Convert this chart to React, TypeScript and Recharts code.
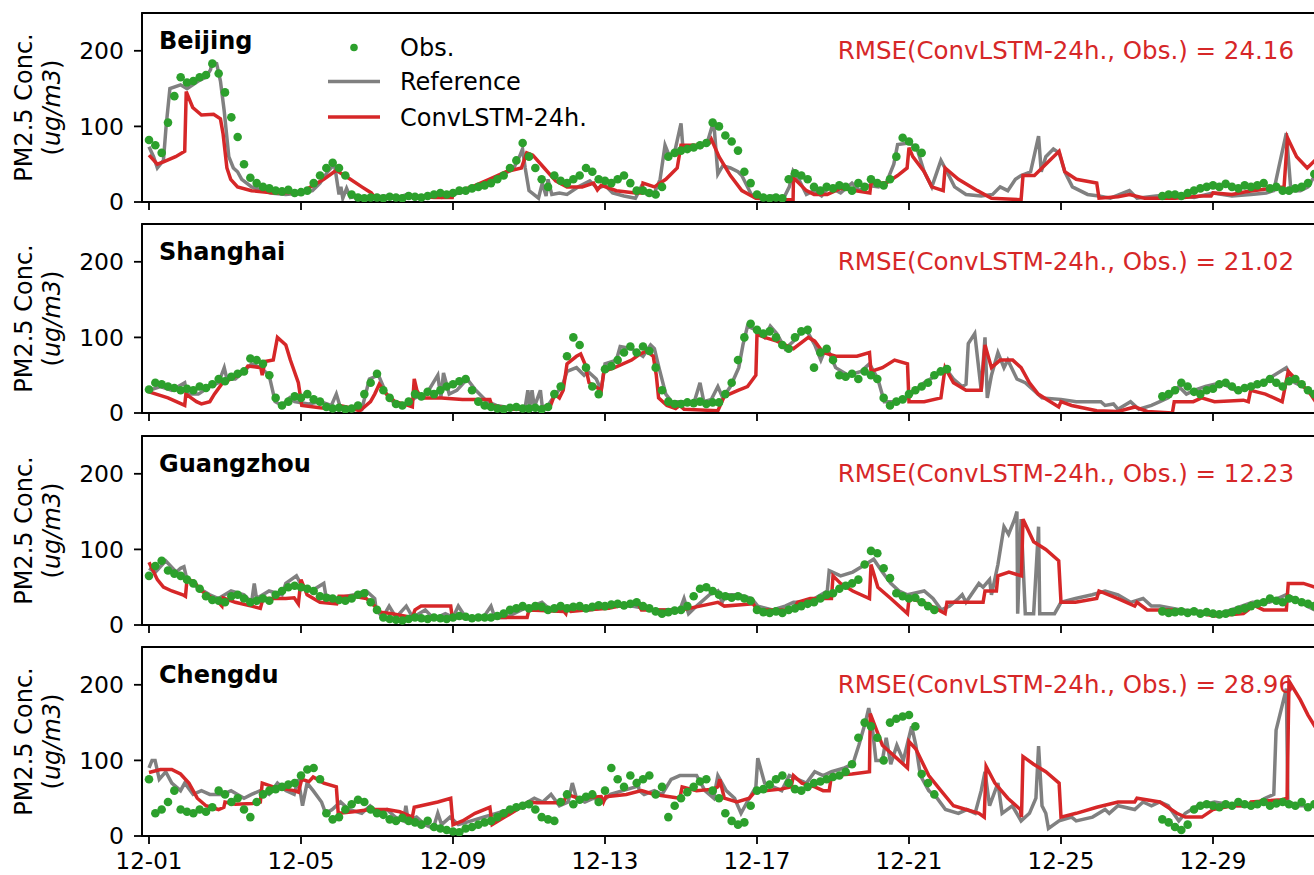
import React from 'react';
import { ComposedChart, Line, Scatter, XAxis, YAxis, ReferenceArea } from 'recharts';

// ---------- axes / labels ----------
const TICK_DAYS = [0, 4, 8, 12, 16, 20, 24, 28];
const TICK_LABELS = ['12-01', '12-05', '12-09', '12-13', '12-17', '12-21', '12-25', '12-29'];
const Y_TICKS = [0, 100, 200];
const CITIES = ['Beijing', 'Shanghai', 'Guangzhou', 'Chengdu'];
const RMSE_VALUES = ['24.16', '21.02', '12.23', '28.96'];
const LEGEND_LABELS = ['Obs.', 'Reference', 'ConvLSTM-24h.'];
const OBS_STEP_HOURS = 4;

// ---------- observations (every 4 h from 12-01 00:00, null = missing) ----------
const beijingObs: (number | null)[] = [
  82, 75, 65, 105, 140, 165,
  158, 160, 165, 168, 183, 170,
  145, 112, 86, 50, 32, 25,
  20, 18, 15, 14, 16, 12,
  13, 15, 25, 35, 45, 52,
  45, 35, 10, 6, 5, 6,
  6, 5, 7, 6, 5, 8,
  7, 6, 8, 10, 12, 10,
  12, 15, 15, 18, 20, 22,
  25, 30, 35, 45, 55, 78,
  60, 45, 30, 20, 35, 28,
  25, 30, 35, 45, 40, 30,
  28, 25, 30, 35, 25, 15,
  15, 12, 10, 20, 60, 65,
  68, 70, 72, 75, 78, 105,
  100, 88, 80, 68, 40, 25,
  10, 6, 5, 6, 5, 30,
  38, 35, 30, 20, 15, 20,
  18, 22, 20, 15, 25, 20,
  30, 25, 22, 30, 60, 85,
  80, 72, 65, null, null, null,
  null, null, null, null, null, null,
  null, null, null, null, null, null,
  null, null, null, null, null, null,
  null, null, null, null, null, null,
  null, null, null, null, null, null,
  null, null, null, null, 8, 10,
  10, 8, 12, 15, 18, 20,
  22, 20, 24, 20, 18, 22,
  20, 22, 25, 18, 20, 15,
  15, 18, 20, 25, 37, 40,
];

const shanghaiObs: (number | null)[] = [
  31, 40, 38, 35, 33, 30,
  32, 30, 35, 33, 38, 45,
  42, 48, 52, 55, 72, 70,
  65, 50, 20, 10, 15, 22,
  20, 25, 18, 15, 8, 6,
  7, 5, 6, 10, 25, 40,
  52, 30, 20, 12, 10, 15,
  25, 22, 28, 25, 30, 35,
  38, 42, 45, 30, 15, 10,
  8, 6, 5, 7, 8, 6,
  6, 7, 5, 8, 25, 35,
  75, 100, 90, 60, 35, 25,
  58, 62, 70, 80, 88, 80,
  88, 82, 60, 30, 15, 12,
  12, 14, 13, 15, 12, 14,
  14, 25, 40, 70, 100, 118,
  110, 105, 108, 100, 90, 85,
  100, 108, 110, 60, 80, 85,
  70, 50, 48, 52, 45, 55,
  50, 45, 20, 10, 15, 18,
  25, 30, 35, 40, 50, 55,
  58, null, null, null, null, null,
  null, null, null, null, null, null,
  null, null, null, null, null, null,
  null, null, null, null, null, null,
  null, null, null, null, null, null,
  null, null, null, null, 22, 25,
  30, 40, 35, 28, 25, 30,
  32, 38, 40, 35, 30, 33,
  35, 38, 40, 45, 40, 35,
  42, 45, 38, 30, 25, 20,
];

const guangzhouObs: (number | null)[] = [
  65, 78, 85, 72, 68, 65,
  60, 55, 48, 38, 33, 32,
  30, 38, 40, 35, 30, 32,
  35, 32, 40, 45, 50, 52,
  50, 48, 45, 38, 36, 35,
  33, 32, 35, 40, 42, 30,
  20, 10, 8, 7, 6, 8,
  10, 9, 8, 10, 9, 8,
  10, 12, 11, 9, 10, 10,
  10, 12, 15, 20, 22, 25,
  22, 25, 24, 20, 22, 25,
  22, 24, 25, 22, 24, 26,
  25, 27, 28, 26, 28, 30,
  25, 22, 18, 15, 17, 19,
  20, 25, 38, 48, 50, 45,
  40, 38, 36, 38, 35, 32,
  20, 17, 16, 18, 16, 20,
  22, 25, 28, 30, 35, 40,
  42, 48, 52, 55, 60, 80,
  98, 95, 75, 62, 42, 38,
  35, 36, 30, 25, 20, null,
  null, null, null, null, null, null,
  null, null, null, null, null, null,
  null, null, null, null, null, null,
  null, null, null, null, null, null,
  null, null, null, null, null, null,
  null, null, null, null, 18, 16,
  17, 18, 16, 18, 15, 17,
  15, 14, 15, 17, 20, 22,
  25, 28, 30, 35, 32, 30,
  35, 33, 30, 28, 25, 22,
];

const chengduObs: (number | null)[] = [
  75, 30, 35, 45, 60, 35,
  32, 30, 35, 32, 38, 60,
  55, 45, 50, 35, 25, 45,
  55, 60, 62, 65, 68, 70,
  80, 88, 90, 75, 30, 22,
  25, 35, 42, 48, 45, 35,
  30, 28, 22, 20, 24, 20,
  18, 15, 20, 12, 10, 8,
  6, 5, 10, 12, 15, 18,
  20, 25, 30, 35, 38, 40,
  42, 35, 25, 22, 20, 45,
  55, 42, 48, 52, 55, 45,
  60, 90, 75, 65, 80, 70,
  75, 80, 55, 65, 25, 40,
  50, 58, 65, 72, 75, 60,
  50, 30, 20, 15, 18, 40,
  60, 62, 68, 75, 80, 70,
  62, 60, 65, 70, 72, 75,
  78, 80, 85, 95, 130, 150,
  145, 130, 100, 150, 155, 158,
  160, 145, 82, 70, 55, null,
  null, null, null, null, null, null,
  null, null, null, null, null, null,
  null, null, null, null, null, null,
  null, null, null, null, null, null,
  null, null, null, null, null, null,
  null, null, null, null, 22, 18,
  12, 8, 15, 35, 40, 42,
  40, 38, 42, 40, 45, 42,
  40, 42, 45, 40, 43, 45,
  42, 40, 45, 38, 42, 40,
];

// ---------- reference run: [day since 12-01 00:00, value] ----------
const beijingRef: [number, number][] = [
  [0, 73], [0.12, 60], [0.22, 45], [0.38, 55], [0.45, 100], [0.55, 150], [0.83, 155], [1.0, 150], [1.3, 160], [1.5, 165],
  [1.62, 175], [1.66, 185], [1.78, 183], [1.88, 160], [1.98, 120], [2.1, 60], [2.22, 45], [2.33, 40], [2.44, 30], [2.7, 20],
  [3.2, 12], [3.6, 10], [4.0, 12], [4.3, 15], [4.5, 25], [4.7, 40], [4.88, 50], [5.0, 10], [5.05, 20], [5.1, 5],
  [5.2, 18], [5.3, 6], [5.5, 8], [5.8, 5], [6.2, 8], [6.5, 5], [6.8, 10], [7.1, 6], [7.4, 8], [7.7, 6],
  [7.8, 10], [8.2, 12], [8.5, 20], [8.8, 22], [9.0, 25], [9.3, 35], [9.6, 45], [9.75, 60], [9.83, 70], [9.9, 45],
  [10.0, 15], [10.25, 5], [10.35, 25], [10.45, 8], [10.5, 30], [10.6, 10], [10.8, 12], [11.0, 10], [11.3, 20], [11.6, 28],
  [11.8, 18], [12.0, 22], [12.2, 12], [12.5, 8], [12.8, 5], [12.95, 20], [13.1, 10], [13.3, 12], [13.45, 30], [13.58, 75],
  [13.7, 60], [13.85, 70], [14.0, 104], [14.05, 72], [14.3, 75], [14.5, 72], [14.7, 80], [14.86, 107], [14.97, 37], [15.1, 48],
  [15.3, 45], [15.5, 40], [15.6, 35], [15.85, 10], [16.1, 5], [16.4, 8], [16.7, 5], [16.85, 20], [16.95, 41], [17.1, 30],
  [17.3, 10], [17.5, 15], [17.7, 8], [17.9, 20], [18.2, 12], [18.5, 25], [18.7, 15], [18.9, 22], [19.2, 20], [19.4, 25],
  [19.6, 50], [19.7, 76], [20.0, 78], [20.2, 72], [20.4, 40], [20.6, 20], [20.84, 55], [21.0, 40], [21.2, 20], [21.5, 10],
  [21.9, 8], [22.2, 10], [22.4, 20], [22.6, 15], [22.8, 30], [22.95, 35], [23.2, 40], [23.41, 87], [23.48, 40], [23.6, 60],
  [23.8, 70], [23.95, 65], [24.1, 40], [24.3, 20], [24.7, 10], [25.0, 8], [25.3, 5], [25.8, 15], [26.0, 5], [26.5, 8],
  [27.0, 10], [27.5, 6], [28.0, 12], [28.5, 8], [29.0, 10], [29.4, 12], [29.6, 15], [29.75, 50], [29.93, 91], [30.05, 15],
  [30.3, 15], [30.5, 20], [30.68, 35], [31.0, 40],
];

const shanghaiRef: [number, number][] = [
  [0, 30], [0.3, 35], [0.6, 30], [0.94, 40], [1.0, 25], [1.3, 25], [1.6, 35], [1.83, 40], [1.98, 60], [2.05, 45],
  [2.27, 45], [2.5, 55], [2.7, 65], [2.94, 60], [3.16, 50], [3.32, 15], [3.5, 10], [3.7, 20], [3.83, 15], [4.2, 12],
  [4.5, 15], [4.8, 10], [4.93, 25], [5.05, 5], [5.4, 8], [5.6, 5], [5.8, 45], [6.04, 50], [6.25, 25], [6.5, 10],
  [6.8, 12], [7.0, 20], [7.3, 25], [7.6, 50], [7.68, 20], [7.75, 53], [7.9, 25], [8.1, 30], [8.37, 45], [8.6, 30],
  [8.9, 15], [9.14, 10], [9.5, 7], [9.9, 8], [9.97, 30], [10.02, 8], [10.08, 30], [10.14, 8], [10.3, 30], [10.35, 8],
  [10.5, 10], [10.7, 25], [10.87, 35], [11.0, 55], [11.25, 60], [11.45, 50], [11.55, 55], [11.77, 45], [11.9, 30], [12.0, 65],
  [12.3, 70], [12.4, 88], [12.7, 85], [13.0, 75], [13.2, 90], [13.3, 85], [13.42, 60], [13.6, 25], [13.75, 15], [14.1, 15],
  [14.35, 15], [14.5, 40], [14.6, 15], [14.8, 18], [14.97, 35], [15.1, 20], [15.3, 35], [15.52, 60], [15.63, 90], [15.75, 115],
  [15.97, 110], [16.2, 100], [16.35, 115], [16.52, 105], [16.74, 85], [16.96, 95], [17.13, 105], [17.3, 110], [17.52, 90], [17.68, 70],
  [17.8, 85], [17.9, 80], [18.07, 60], [18.4, 50], [18.74, 55], [18.96, 65], [19.18, 45], [19.35, 15], [19.62, 15], [19.95, 20],
  [20.17, 30], [20.4, 40], [20.73, 50], [20.95, 60], [21.17, 45], [21.4, 35], [21.5, 38], [21.56, 92], [21.73, 105], [21.9, 30],
  [22.0, 100], [22.06, 20], [22.17, 50], [22.34, 80], [22.5, 60], [22.6, 70], [22.84, 45], [23.06, 40], [23.28, 30], [23.5, 20],
  [24.0, 18], [24.4, 15], [24.7, 15], [25.05, 15], [25.16, 10], [25.38, 12], [25.5, 5], [25.83, 15], [26.05, 5], [26.38, 10],
  [26.6, 15], [26.82, 20], [27.1, 35], [27.3, 25], [27.5, 30], [27.8, 35], [28.2, 40], [28.6, 30], [29.1, 35], [29.45, 45],
  [29.93, 60], [30.15, 40], [30.37, 35], [30.68, 20], [31.0, 20],
];

const guangzhouRef: [number, number][] = [
  [0, 75], [0.17, 70], [0.44, 85], [0.72, 70], [0.83, 75], [0.92, 77], [1.0, 60], [1.27, 50], [1.6, 40], [1.83, 35],
  [2.16, 45], [2.5, 40], [2.7, 30], [2.77, 55], [2.83, 35], [3.16, 45], [3.5, 40], [3.6, 55], [3.88, 65], [4.04, 50],
  [4.27, 45], [4.6, 55], [4.65, 40], [4.9, 35], [5.4, 40], [5.72, 45], [5.94, 35], [5.98, 20], [6.15, 10], [6.32, 25],
  [6.5, 10], [6.77, 25], [6.94, 10], [7.27, 20], [7.5, 8], [7.8, 15], [8.0, 10], [8.14, 25], [8.36, 8], [8.8, 10],
  [9.0, 25], [9.1, 10], [9.4, 10], [9.8, 20], [10.1, 25], [10.34, 30], [10.56, 20], [11.1, 25], [11.6, 20], [12.2, 25],
  [12.7, 25], [13.3, 20], [13.97, 20], [14.08, 35], [14.2, 15], [14.41, 25], [14.75, 40], [14.97, 45], [15.08, 30], [15.19, 40],
  [15.52, 40], [15.86, 35], [16.02, 25], [16.41, 20], [16.74, 25], [16.96, 30], [17.3, 30], [17.52, 35], [17.85, 45], [17.9, 72],
  [18.2, 65], [18.52, 70], [18.85, 80], [19.07, 87], [19.3, 70], [19.52, 55], [19.74, 45], [19.96, 40], [20.4, 45], [20.63, 35],
  [20.85, 20], [21.07, 25], [21.3, 35], [21.4, 40], [21.5, 30], [21.84, 55], [21.95, 50], [22.12, 60], [22.17, 40], [22.34, 80],
  [22.5, 130], [22.62, 120], [22.78, 140], [22.84, 150], [22.86, 15], [22.95, 140], [23.06, 15], [23.28, 15], [23.41, 130], [23.44, 15],
  [23.83, 15], [24.0, 30], [24.38, 35], [24.82, 40], [25.16, 45], [25.5, 40], [25.83, 30], [26.16, 35], [26.38, 25], [26.6, 25],
  [27.16, 20], [27.71, 18], [28.15, 15], [28.48, 20], [29.04, 30], [29.48, 30], [29.93, 40], [30.15, 35], [30.48, 25], [30.68, 20],
  [31.0, 20],
];

const chengduRef: [number, number][] = [
  [0, 90], [0.08, 100], [0.16, 100], [0.27, 75], [0.44, 85], [0.6, 70], [0.83, 60], [0.94, 70], [1.16, 55], [1.38, 60],
  [1.6, 55], [1.94, 55], [2.16, 60], [2.5, 50], [2.7, 55], [2.93, 60], [3.16, 55], [3.38, 70], [3.6, 60], [3.82, 55],
  [3.93, 75], [4.04, 40], [4.16, 70], [4.32, 60], [4.54, 45], [4.65, 30], [4.82, 35], [5.04, 45], [5.26, 35], [5.6, 30],
  [5.82, 40], [6.04, 30], [6.26, 35], [6.48, 25], [6.7, 20], [6.76, 40], [6.82, 20], [7.04, 25], [7.26, 15], [7.48, 10],
  [7.6, 30], [7.7, 15], [7.92, 25], [8.14, 15], [8.48, 20], [8.8, 25], [9.14, 30], [9.48, 35], [9.8, 40], [10.14, 50],
  [10.36, 45], [10.58, 55], [10.8, 40], [11.03, 45], [11.14, 70], [11.25, 50], [11.47, 45], [11.7, 50], [11.92, 45], [12.14, 55],
  [12.47, 60], [12.8, 65], [12.85, 75], [12.9, 60], [13.03, 55], [13.3, 60], [13.5, 55], [13.74, 75], [13.97, 80], [14.41, 80],
  [14.63, 60], [14.86, 50], [14.97, 80], [15.19, 60], [15.41, 50], [15.58, 30], [15.74, 45], [15.97, 65], [16.02, 103], [16.2, 70],
  [16.65, 60], [16.85, 80], [17.07, 75], [17.3, 70], [17.52, 85], [17.74, 80], [17.96, 85], [18.3, 90], [18.52, 95], [18.68, 120],
  [18.85, 150], [18.94, 169], [19.02, 150], [19.13, 100], [19.3, 100], [19.4, 130], [19.52, 95], [19.68, 120], [19.85, 100], [20.07, 145],
  [20.18, 120], [20.3, 80], [20.52, 60], [20.74, 50], [20.96, 35], [21.3, 30], [21.52, 35], [21.74, 30], [21.9, 60], [22.0, 85],
  [22.12, 40], [22.34, 70], [22.45, 30], [22.72, 40], [22.95, 20], [23.17, 30], [23.34, 50], [23.41, 119], [23.5, 40], [23.6, 30],
  [23.67, 10], [23.95, 20], [24.28, 25], [24.4, 20], [24.83, 25], [25.16, 35], [25.27, 30], [25.5, 40], [25.94, 35], [26.16, 45],
  [26.38, 40], [26.6, 45], [26.82, 40], [27.1, 20], [27.27, 30], [27.6, 40], [28.04, 45], [28.6, 40], [29.04, 40], [29.37, 50],
  [29.6, 55], [29.66, 140], [29.93, 195], [29.97, 45], [30.27, 40], [30.68, 40], [31.0, 40],
];

// ---------- ConvLSTM-24h forecast: [day, value] ----------
const beijingModel: [number, number][] = [
  [0, 62], [0.22, 50], [0.38, 53], [0.7, 60], [0.94, 67], [0.98, 146], [1.15, 125], [1.38, 115], [1.7, 116], [1.88, 110],
  [1.95, 90], [2.05, 45], [2.15, 30], [2.33, 20], [2.7, 15], [3.3, 12], [3.9, 13], [4.04, 13], [4.25, 20], [4.6, 30],
  [4.93, 42], [5.05, 38], [5.3, 30], [5.6, 20], [5.85, 12], [5.96, 5], [6.5, 6], [7.0, 8], [7.5, 6], [7.98, 6],
  [8.0, 12], [8.5, 20], [8.95, 30], [9.4, 40], [9.8, 45], [9.94, 65], [10.1, 62], [10.4, 45], [10.7, 28], [11.0, 20],
  [11.4, 20], [11.7, 25], [11.8, 16], [11.9, 22], [12.3, 15], [12.8, 12], [12.96, 12], [13.0, 25], [13.3, 20], [13.6, 30],
  [13.9, 45], [14.0, 75], [14.4, 75], [14.75, 78], [14.8, 83], [15.0, 60], [15.3, 35], [15.6, 15], [15.97, 5], [16.5, 3],
  [16.95, 3], [16.96, 32], [17.3, 15], [17.5, 10], [17.85, 10], [18.2, 18], [18.6, 15], [18.97, 12], [19.0, 25], [19.4, 25],
  [19.7, 35], [19.95, 45], [20.0, 72], [20.1, 60], [20.4, 40], [20.6, 20], [20.9, 15], [20.95, 45], [21.3, 30], [21.8, 15],
  [22.17, 5], [22.95, 3], [23.0, 35], [23.3, 35], [23.6, 50], [23.95, 67], [24.1, 40], [24.4, 30], [24.94, 25], [25.0, 5],
  [25.5, 7], [25.8, 10], [26.2, 5], [27.0, 5], [27.7, 8], [27.95, 8], [28.0, 12], [28.5, 10], [28.9, 14], [29.5, 18],
  [29.87, 20], [29.96, 85], [30.2, 60], [30.48, 45], [30.68, 55], [31.0, 60],
];

const shanghaiModel: [number, number][] = [
  [0, 28], [0.5, 20], [0.72, 15], [0.94, 10], [0.97, 25], [1.25, 15], [1.38, 12], [1.6, 15], [1.72, 25], [1.94, 40],
  [2.16, 45], [2.5, 55], [2.6, 62], [2.94, 60], [2.98, 50], [3.05, 68], [3.27, 70], [3.38, 100], [3.6, 90], [3.72, 70],
  [3.93, 40], [4.02, 10], [4.5, 7], [4.94, 5], [5.0, 10], [5.2, 8], [5.55, 3], [5.83, 15], [5.94, 25], [6.06, 38],
  [6.25, 25], [6.47, 15], [6.7, 12], [6.93, 8], [6.98, 45], [7.05, 30], [7.16, 20], [7.7, 20], [8.25, 18], [8.97, 18],
  [9.02, 10], [9.58, 5], [9.9, 5], [10.46, 8], [10.57, 10], [10.68, 25], [10.8, 20], [10.9, 30], [11.0, 65], [11.25, 75],
  [11.36, 78], [11.47, 65], [11.58, 40], [11.9, 30], [11.97, 55], [12.25, 60], [12.7, 70], [12.92, 78], [13.1, 82], [13.27, 75],
  [13.35, 50], [13.41, 20], [13.63, 10], [13.86, 6], [13.97, 10], [14.08, 5], [14.97, 3], [15.14, 22], [15.5, 30], [15.75, 35],
  [15.97, 50], [16.0, 104], [16.2, 100], [16.52, 95], [16.96, 85], [17.35, 100], [17.52, 95], [17.74, 80], [18.07, 75], [18.63, 75],
  [18.96, 80], [19.0, 55], [19.3, 60], [19.62, 70], [19.96, 65], [20.0, 15], [20.4, 15], [20.84, 20], [20.95, 60], [21.17, 40],
  [21.5, 30], [21.9, 30], [22.0, 90], [22.17, 60], [22.4, 70], [22.73, 70], [22.95, 60], [23.17, 40], [23.4, 25], [23.72, 15],
  [23.94, 8], [24.0, 15], [24.28, 10], [24.94, 3], [25.5, 2], [25.94, 8], [26.27, 2], [26.93, 0], [26.98, 15], [27.48, 15],
  [27.7, 20], [28.04, 15], [28.8, 17], [28.93, 15], [28.99, 30], [29.38, 25], [29.82, 15], [29.98, 55], [30.27, 40], [30.5, 30],
  [30.7, 15], [31.0, 12],
];

const guangzhouModel: [number, number][] = [
  [0, 83], [0.22, 60], [0.38, 50], [0.6, 45], [0.89, 40], [0.96, 38], [1.0, 60], [1.17, 58], [1.38, 45], [1.83, 30],
  [1.92, 25], [1.95, 36], [2.27, 30], [2.7, 25], [2.93, 22], [3.0, 35], [3.6, 35], [3.82, 36], [3.93, 28], [4.0, 60],
  [4.16, 40], [4.5, 30], [4.94, 28], [5.0, 38], [5.38, 38], [5.72, 35], [5.94, 25], [6.1, 17], [6.4, 15], [6.93, 10],
  [7.0, 20], [7.16, 25], [7.94, 25], [7.98, 10], [9.5, 10], [9.95, 10], [10.0, 20], [10.92, 18], [10.97, 15], [11.0, 22],
  [11.1, 18], [11.56, 20], [12.1, 22], [12.85, 30], [12.96, 20], [13.5, 20], [14.0, 20], [14.5, 25], [14.97, 30], [15.14, 25],
  [15.9, 28], [16.0, 20], [16.96, 20], [17.07, 30], [17.4, 35], [17.96, 35], [18.0, 65], [18.2, 55], [18.52, 45], [18.96, 35],
  [19.0, 80], [19.18, 50], [19.52, 35], [19.96, 15], [20.0, 35], [20.4, 30], [20.95, 15], [21.0, 30], [21.95, 30], [22.0, 45],
  [22.3, 45], [22.34, 65], [22.63, 70], [22.96, 65], [23.0, 140], [23.28, 110], [23.6, 100], [23.94, 85], [24.0, 30], [24.38, 30],
  [24.94, 35], [25.0, 45], [25.5, 35], [25.94, 25], [26.0, 30], [26.27, 20], [26.93, 20], [27.5, 17], [28.04, 12], [28.8, 15],
  [28.93, 20], [29.0, 28], [29.33, 20], [29.93, 20], [29.98, 55], [30.38, 55], [30.68, 50], [31.0, 48],
];

const chengduModel: [number, number][] = [
  [0, 84], [0.3, 88], [0.6, 88], [0.83, 82], [1.05, 70], [1.27, 50], [1.5, 40], [1.83, 35], [1.97, 38], [2.0, 45],
  [2.27, 42], [2.72, 43], [2.93, 45], [2.98, 70], [3.27, 65], [3.82, 60], [3.93, 58], [4.02, 75], [4.21, 72], [4.32, 78],
  [4.6, 70], [4.93, 65], [4.98, 30], [5.38, 32], [5.82, 35], [6.27, 35], [6.6, 32], [6.93, 25], [6.98, 38], [7.6, 45],
  [7.94, 50], [8.0, 15], [8.25, 20], [8.58, 30], [8.97, 38], [9.03, 15], [9.36, 25], [9.69, 35], [10.0, 45], [10.2, 44],
  [10.9, 44], [11.0, 55], [11.3, 50], [11.9, 52], [11.96, 45], [12.02, 52], [12.56, 55], [12.96, 60], [13.3, 55], [13.97, 50],
  [14.03, 65], [14.41, 60], [14.86, 62], [14.97, 65], [15.02, 75], [15.14, 50], [15.47, 45], [15.8, 50], [15.97, 60], [16.2, 60],
  [16.63, 62], [16.9, 65], [16.96, 80], [17.18, 70], [17.52, 65], [17.74, 60], [17.9, 60], [17.96, 80], [18.5, 82], [18.96, 85],
  [18.98, 162], [19.3, 120], [19.63, 105], [19.96, 90], [20.0, 125], [20.18, 115], [20.52, 80], [20.84, 60], [21.17, 40], [21.5, 35],
  [21.84, 30], [21.98, 25], [22.03, 92], [22.26, 70], [22.6, 50], [22.93, 35], [22.96, 25], [23.0, 105], [23.28, 95], [23.6, 85],
  [23.95, 70], [24.0, 25], [24.4, 30], [24.94, 38], [25.5, 45], [25.94, 45], [26.0, 50], [26.6, 45], [27.05, 30], [27.27, 25],
  [27.71, 25], [28.0, 35], [28.5, 40], [28.93, 40], [29.0, 45], [29.82, 48], [29.95, 50], [30.0, 205], [30.3, 180], [30.5, 160],
  [30.68, 145], [31.0, 120],
];

// ---------- layout ----------
const FONT = 'DejaVu Sans';
const GREEN = '#2ca02c';
const GRAY = '#808080';
const RED = '#d62728';
const PLOT_LEFT = 142;
const DAY0_PX = 149;
const PX_PER_DAY = 38;
const CHART_W = 1334;
const X_MIN = (PLOT_LEFT - DAY0_PX) / PX_PER_DAY;
const X_MAX = (CHART_W - DAY0_PX) / PX_PER_DAY;
const PLOT_H = 189;
const PANEL_TOPS = [13, 224, 436, 647];
const TOP_PAD = 6;

const panels = [
  { obs: beijingObs, ref: beijingRef, model: beijingModel },
  { obs: shanghaiObs, ref: shanghaiRef, model: shanghaiModel },
  { obs: guangzhouObs, ref: guangzhouRef, model: guangzhouModel },
  { obs: chengduObs, ref: chengduRef, model: chengduModel },
];

const Dot = (p: any) => {
  if (p.cx == null || p.cy == null) return null;
  return <circle cx={p.cx} cy={p.cy} r={4.3} fill={GREEN} />;
};

function Panel({ idx }: { idx: number }) {
  const { obs, ref, model } = panels[idx];
  const last = idx === panels.length - 1;
  const obsPts = obs
    .map((v, i) => (v == null ? null : { t: (i * OBS_STEP_HOURS) / 24, v }))
    .filter((d): d is { t: number; v: number } => d !== null);
  const refPts = ref.map(([t, v]) => ({ t, v }));
  const modelPts = model.map(([t, v]) => ({ t, v }));
  const axisH = last ? 48 : 20;
  return (
    <div style={{ position: 'absolute', left: 0, top: PANEL_TOPS[idx] - TOP_PAD }}>
      <ComposedChart
        width={CHART_W}
        height={TOP_PAD + PLOT_H + axisH}
        margin={{ top: TOP_PAD, right: 0, bottom: 0, left: 0 }}
      >
        <XAxis
          dataKey="t"
          type="number"
          domain={[X_MIN, X_MAX]}
          allowDataOverflow
          ticks={TICK_DAYS}
          interval={0}
          height={axisH}
          tickSize={8}
          tickMargin={9}
          tickFormatter={(v: number) => (last ? TICK_LABELS[TICK_DAYS.indexOf(v)] : '')}
          axisLine={{ stroke: '#000', strokeWidth: 1.8 }}
          tickLine={{ stroke: '#000', strokeWidth: 1.8 }}
          tick={{ fill: '#000', fontSize: 23, fontFamily: FONT }}
        />
        <YAxis
          type="number"
          domain={[0, 250]}
          allowDataOverflow
          ticks={Y_TICKS}
          interval={0}
          width={PLOT_LEFT}
          tickSize={8}
          tickMargin={10}
          axisLine={{ stroke: '#000', strokeWidth: 1.8 }}
          tickLine={{ stroke: '#000', strokeWidth: 1.8 }}
          tick={{ fill: '#000', fontSize: 23.5, fontFamily: FONT }}
        />
        <Scatter data={obsPts} dataKey="v" fill={GREEN} shape={Dot} isAnimationActive={false} />
        <Line
          data={refPts}
          dataKey="v"
          type="linear"
          stroke={GRAY}
          strokeWidth={3.5}
          dot={false}
          activeDot={false}
          isAnimationActive={false}
        />
        <Line
          data={modelPts}
          dataKey="v"
          type="linear"
          stroke={RED}
          strokeWidth={3.5}
          dot={false}
          activeDot={false}
          isAnimationActive={false}
        />
        <ReferenceArea
          x1={X_MIN}
          x2={X_MAX}
          y1={0}
          y2={250}
          fill="none"
          fillOpacity={0}
          stroke="#000"
          strokeWidth={1.8}
          ifOverflow="visible"
        />
      </ComposedChart>
    </div>
  );
}

function Overlay() {
  return (
    <svg
      width={1314}
      height={875}
      style={{ position: 'absolute', left: 0, top: 0, pointerEvents: 'none' }}
      fontFamily={FONT}
    >
      {CITIES.map((city, i) => {
        const off = PANEL_TOPS[i] - PANEL_TOPS[0];
        const cy = PANEL_TOPS[i] + PLOT_H / 2;
        return (
          <g key={city}>
            <text
              transform={`translate(24, ${cy}) rotate(-90)`}
              textAnchor="middle"
              dominantBaseline="central"
              fontSize={24}
              fill="#000"
            >
              PM2.5 Conc.
            </text>
            <text
              transform={`translate(52, ${cy}) rotate(-90)`}
              textAnchor="middle"
              dominantBaseline="central"
              fontSize={24}
              fill="#000"
            >
              (<tspan fontStyle="italic">ug/m3</tspan>)
            </text>
            <text x={159} y={49 + off} fontSize={24} fontWeight="bold" fill="#000">
              {city}
            </text>
            <text x={1294} y={59 + off} fontSize={24.5} textAnchor="end" fill={RED}>
              {`RMSE(ConvLSTM-24h., Obs.) = ${RMSE_VALUES[i]}`}
            </text>
          </g>
        );
      })}
      <g>
        <circle cx={354} cy={47.5} r={3.8} fill={GREEN} />
        <text x={400} y={47.5 + 8.7} fontSize={24} fill="#000">{LEGEND_LABELS[0]}</text>
        <line x1={328} x2={380} y1={81.5} y2={81.5} stroke={GRAY} strokeWidth={3.5} />
        <text x={400} y={81.5 + 8.7} fontSize={24} fill="#000">{LEGEND_LABELS[1]}</text>
        <line x1={328} x2={380} y1={117} y2={117} stroke={RED} strokeWidth={3.5} />
        <text x={400} y={117 + 8.7} fontSize={24} fill="#000">{LEGEND_LABELS[2]}</text>
      </g>
    </svg>
  );
}

export default function App() {
  return (
    <div
      style={{
        position: 'absolute',
        left: 0,
        top: 0,
        width: 1314,
        height: 875,
        overflow: 'hidden',
        background: '#fff',
      }}
    >
      {panels.map((_, i) => (
        <Panel key={i} idx={i} />
      ))}
      <Overlay />
    </div>
  );
}
